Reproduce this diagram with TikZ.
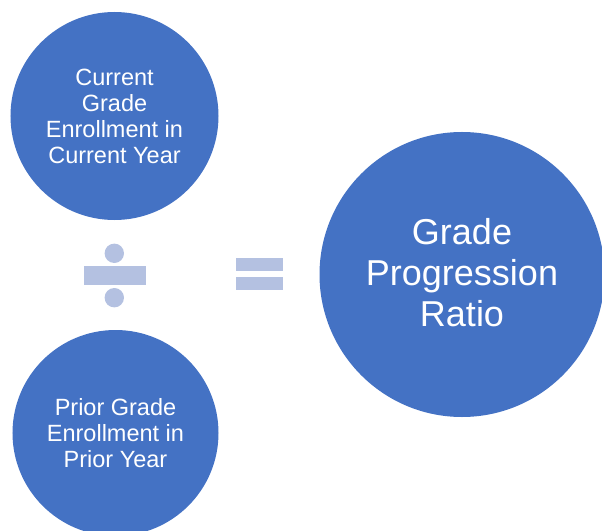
\documentclass[tikz,border=0pt]{standalone}
\usepackage{fontspec}
\setmainfont{Liberation Sans}
\definecolor{circblue}{HTML}{4472C4}
\definecolor{symblue}{HTML}{B4C1E1}
\begin{document}
\begin{tikzpicture}[x=1bp,y=-1bp,
  bigcirc/.style={circle,fill=circblue,draw=none,inner sep=0pt},
  label/.style={text=white,align=center,inner sep=0pt},
  smalltext/.style={label,font=\fontsize{23.5bp}{26bp}\selectfont},
  bigtext/.style={label,font=\fontsize{36bp}{41bp}\selectfont},
  symbol/.style={fill=symblue,draw=none}]
\useasboundingbox (0,0) rectangle (602,531);
\clip (0,0) rectangle (602,531);
% circles
\node[bigcirc,minimum size=208bp] (top) at (114.5,116) {};
\node[bigcirc,minimum size=206bp] (bottom) at (115.5,433) {};
\node[bigcirc,minimum size=285bp] (result) at (462,274.5) {};
% texts
\node[smalltext] (toptext) at (114.5,116) {Current\\Grade\\Enrollment in\\Current Year};
\node[smalltext] (bottomtext) at (115.5,433) {Prior Grade\\Enrollment in\\Prior Year};
\node[bigtext] (resulttext) at (462,273) {Grade\\Progression\\Ratio};
% division sign
\fill[symbol] (114.3,253.3) circle (9.7);
\fill[symbol] (84,265.7) rectangle (145.7,285);
\fill[symbol] (114.3,297.7) circle (9.7);
% equals sign
\fill[symbol] (236,258.3) rectangle (282.7,270.7);
\fill[symbol] (236,277.3) rectangle (282.7,290);
\end{tikzpicture}
\end{document}
